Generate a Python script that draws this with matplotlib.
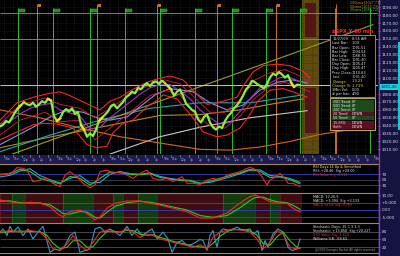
import numpy as np
import matplotlib
matplotlib.use("Agg")
import matplotlib.pyplot as plt
from matplotlib.patches import Rectangle

W, H = 400, 256

# ---------------- price panel data (hourly SPX) ----------------
price = [1039, 1041, 1046, 1044, 1050, 1057, 1062, 1066, 1070, 1067,
         1066, 1069, 1064, 1067, 1071, 1069, 1074, 1072, 1052, 1046,
         1049, 1057, 1061, 1058, 1062, 1055, 1057, 1041, 1035, 1026,
         1030, 1027, 1035, 1046, 1050, 1054, 1058, 1065, 1067, 1062,
         1066, 1070, 1076, 1079, 1083, 1081, 1088, 1086, 1091, 1094,
         1090, 1095, 1096, 1093, 1097, 1094, 1090, 1086, 1078, 1083,
         1086, 1078, 1068, 1064, 1060, 1058, 1048, 1044, 1051, 1054,
         1044, 1038, 1035, 1039, 1037, 1046, 1052, 1056, 1062, 1066,
         1071, 1078, 1086, 1090, 1097, 1095, 1092, 1090, 1087, 1093,
         1101, 1106, 1104, 1108, 1105, 1101, 1104, 1095, 1089, 1092, 1091.4]
highlight_bars = [6, 16, 19, 27, 33, 56, 97]

band_up_x = [0, 17, 33, 50, 60, 70, 80, 90, 100, 110, 120, 133, 147, 157, 170, 183, 193, 207,
             217, 237, 243, 253, 263, 277, 290, 303, 310]
band_up = [1047, 1069, 1076, 1081, 1083, 1078, 1072, 1066, 1060, 1071, 1076, 1086, 1095, 1099,
           1103, 1098, 1085, 1067, 1069, 1076, 1090, 1108, 1116, 1118, 1116, 1109, 1100]
band_lo_x = [0, 10, 33, 43, 57, 73, 87, 97, 107, 113, 123, 133, 147, 157, 163, 177, 193, 203,
             217, 227, 240, 250, 257, 270, 283, 297, 307]
band_lo = [1022, 1028, 1041, 1043, 1042, 1037, 1016, 1012, 1014, 1031, 1043, 1047, 1064, 1072,
           1079, 1074, 1050, 1032, 1026, 1028, 1037, 1054, 1070, 1085, 1087, 1081, 1076]
inner_x = [0, 20, 45, 60, 80, 95, 110, 130, 150, 165, 180, 195, 210, 225, 240, 255, 270, 285, 300, 310]
inner_up = [1042, 1066, 1075, 1067, 1062, 1050, 1062, 1079, 1092, 1098,
            1093, 1075, 1057, 1057, 1073, 1098, 1107, 1111, 1103, 1095]
inner_lo = [1028, 1047, 1057, 1045, 1047, 1022, 1037, 1057, 1078, 1085,
            1079, 1054, 1040, 1037, 1052, 1075, 1090, 1095, 1088, 1083]

purple_x = [0, 10, 20, 30, 40, 50, 60, 70, 80, 90, 100, 110, 120, 130, 140, 150, 160, 170, 180,
            190, 200, 210, 220, 230, 240, 250, 260, 270, 280, 290, 300]
purple = [1042, 1045, 1055, 1062, 1066, 1068, 1060, 1056, 1052, 1036, 1038, 1050, 1060, 1070,
          1080, 1088, 1092, 1092, 1084, 1074, 1060, 1050, 1042, 1044, 1058, 1074, 1088, 1094,
          1101, 1101, 1096]
lblue_x = [0, 33, 50, 67, 83, 97, 110, 127, 140, 155, 170, 193, 210, 227, 243, 260, 277, 293, 307]
lblue = [1016, 1038, 1051, 1060, 1057, 1050, 1047, 1051, 1064, 1079, 1087, 1083, 1069, 1060,
         1066, 1085, 1095, 1098, 1094]
teal_x = [0, 50, 100, 150, 200, 250, 303]
teal = [1007, 1028, 1047, 1062, 1069, 1069, 1079]
amber_x = [0, 40, 80, 120, 160, 200, 240, 270, 303]
amber = [1012, 1023, 1033, 1043, 1053, 1054, 1060, 1067, 1074]
orange_x = [0, 40, 80, 120, 160, 200, 230, 260, 290, 320, 345]
orange_ma = [1060, 1050, 1037, 1026, 1018, 1010, 1009, 1013, 1020, 1029, 1034]
gray_x = [110, 160, 200, 250, 307]
gray_ma = [1004, 1026, 1038, 1050, 1059]
trend_x = [10, 373]
trend = [1003, 1168]
pivot_levels = [1182.4, 1149.8]
last_price = 1091.4

day_lines = [18.3, 53.3, 90, 125, 160, 195, 231.7, 265.7, 300, 335, 370]
week_lines = [37.3, 97.3, 156.7, 216.7, 276, 336]
price_ticks = [1190, 1180, 1170, 1160, 1150, 1140, 1130, 1120, 1110, 1100,
               1080, 1070, 1060, 1050, 1040, 1030, 1020, 1010]
hour_labels = ['10a', '11a', '12p', '1p', '2p', '3p']

# ---------------- RSI ----------------
rsi_x = [0, 7, 13, 17, 22, 27, 33, 40, 47, 53, 60, 65, 70, 77, 83, 90, 95, 100, 107, 113,
         120, 127, 133, 140, 147, 153, 160, 167, 173, 182, 187, 193, 200, 207, 213, 220, 227,
         233, 240, 247, 250, 257, 263, 267, 270, 273, 280, 285, 288, 293, 300]
rsi = [67, 70, 79, 94, 92, 86, 43, 49, 55, 37, 25, 67, 79, 61, 37, 21, 31, 79, 85, 73,
       79, 67, 55, 73, 85, 55, 49, 55, 43, 61, 37, 37, 33, 49, 55, 49, 67, 73, 79, 91,
       95, 85, 55, 31, 49, 55, 73, 55, 37, 37, 25]
rsi_sig = [70, 72, 88, 80, 55, 45, 35, 62, 55, 30, 55, 78, 75, 70, 68, 72, 58, 52, 48, 45,
           35, 45, 55, 65, 75, 88, 80, 58, 60, 50, 35]
rsi_avg = [60, 66, 82, 90, 65, 50, 38, 55, 65, 38, 40, 70, 80, 72, 70, 75, 62, 55, 50, 48,
           38, 40, 50, 60, 72, 84, 86, 65, 62, 55, 40]

# ---------------- MACD ----------------
macd_x = [0, 10, 20, 30, 40, 50, 57, 63, 70, 80, 87, 95, 100, 107, 115, 127, 140, 150, 160,
          173, 187, 200, 213, 227, 240, 250, 255, 263, 270, 278, 287, 293, 300]
macd = [6.8, 5.7, 4.6, 5.3, 4.6, 2.3, -2.3, -4.6, -1.2, 0.0, -2.3, -6.8, -4.6, 1.2, 4.6, 6.2,
        6.2, 4.6, 3.4, 1.2, -1.2, -5.5, -5.5, -2.1, 4.8, 9.1, 10.3, 8.0, 5.7, 4.6, 4.6, 1.2, -1.2]
macd_sig = [6.0, 6.2, 5.0, 4.8, 4.8, 3.5, 0.5, -2.5, -2.8, -1.0, -1.5, -5.0, -5.5, -1.5, 2.5,
            5.0, 6.0, 5.3, 4.0, 2.0, 0.0, -3.8, -5.0, -3.8, 1.5, 6.5, 8.5, 8.8, 7.0, 5.5, 5.0,
            3.2, 0.5]
macd_bands = [(0, 12, 'r'), (12, 25, 'g'), (25, 63, 'r'), (63, 93, 'g'), (93, 113, 'r'),
              (113, 123, 'g'), (123, 138, 'r'), (138, 157, 'g'), (157, 223, 'r'),
              (223, 255, 'g'), (255, 270, 'r'), (270, 280, 'g'), (280, 302, 'r')]

# ---------------- Stochastic ----------------
sto_fast_x = [0, 3, 7, 10, 13, 18, 23, 28, 33, 38, 43, 50, 55, 60, 65, 70, 75, 80, 85, 90,
              95, 100, 105, 110, 115, 120, 127, 132, 137, 142, 147, 152, 157, 163, 168, 172,
              177, 182, 187, 193, 200, 203, 207, 210, 213, 217, 220, 223, 230, 237, 243, 250,
              253, 258, 262, 265, 268, 273, 278, 283, 288, 292, 297, 300]
sto_fast = [78, 90, 65, 100, 78, 97, 65, 90, 52, 78, 100, 1, 14, 8, 27, 65, 78, 1, 8, 14,
            90, 97, 78, 90, 78, 65, 100, 65, 90, 65, 78, 90, 52, 78, 52, 1, 39, 46, 27, 33,
            50, 46, 8, 65, 84, 20, 78, 90, 84, 97, 84, 90, 71, 84, 8, 46, 20, 71, 90, 78,
            20, 8, 14, 52]
sto_x = [0, 10, 20, 30, 40, 47, 53, 60, 67, 73, 80, 87, 93, 100, 107, 113, 120, 127, 133, 140,
         147, 153, 160, 167, 173, 180, 187, 193, 200, 207, 213, 220, 227, 233, 243, 250, 257,
         263, 270, 277, 283, 290, 297, 300]
sto_k = [78, 84, 78, 84, 78, 52, 14, 8, 33, 65, 27, 8, 39, 78, 84, 78, 78, 90, 78, 58,
         71, 65, 52, 46, 39, 33, 27, 20, 30, 14, 58, 78, 84, 90, 84, 78, 52, 14, 39, 84,
         71, 20, 14, 18]
sto_d = [75, 80, 82, 80, 80, 65, 35, 15, 20, 45, 45, 20, 22, 55, 80, 82, 78, 85, 84, 70,
         66, 68, 58, 50, 43, 37, 30, 24, 22, 18, 35, 62, 80, 87, 88, 82, 66, 35, 28, 60,
         78, 45, 20, 16]

info_rows = [("11/27/09", "8:55 AM"), ("Last Bar:", "1.00"), ("Bar Open:", "1091.51"),
             ("Bar High:", "1094.04"), ("Bar Low:", "1088.78"), ("Bar Close:", "1091.40"),
             ("Day Open:", "1105.47"), ("Day High:", "1105.47"), ("Prev Close:", "1110.63")]
quote_rows = [("Last:", "1091.40"), ("Change:", "-19.23"), ("Change %:", "-1.73%"),
              ("1Min Vol:", "0.00"), ("# per bar:", "4/90")]
trend_rows = [("20D Trend:", "UP", 'g'), ("50D Trend:", "UP", 'g'), ("200 Trend:", "UP", 'g'),
              ("20 Trend:", "DOWN", 'r'), ("50 Trend:", "UP", 'g'), ("15 EFD:", "DOWN", 'r'),
              ("Profit:", "DOWN", 'r')]
sma_text = ["200sma [1027.73]", "50sma [1063.73]", "20sma [1085.72]"]

# ---------------- figure ----------------
fig = plt.figure(figsize=(W / 100, H / 100), dpi=100, facecolor='black')


def px_axes(x0, y0, x1, y1, z=1):
    return fig.add_axes([x0 / W, 1 - y1 / H, (x1 - x0) / W, (y1 - y0) / H], zorder=z)


def style_panel(a, ylim, ticks, labels):
    a.set_facecolor('black')
    a.set_xlim(0, 378)
    a.set_ylim(*ylim)
    a.set_xticks([])
    a.yaxis.tick_right()
    a.set_yticks(ticks)
    a.set_yticklabels(labels)
    a.tick_params(axis='y', labelsize=3.0, colors='#d8d8e8', length=1.5, width=0.4, pad=1)
    for s in a.spines.values():
        s.set_visible(False)


bg = px_axes(0, 0, W, H, z=0)
bg.set_xlim(0, W)
bg.set_ylim(H, 0)
bg.axis('off')
bg.add_patch(Rectangle((378, 0), 22, H, fc='#141440', ec='none'))
bg.add_patch(Rectangle((397.5, 42), 2.5, 88, fc='#1ac8d0', ec='none'))
bg.add_patch(Rectangle((0, 154.5), 378, 9, fc='#1c1c52', ec='none'))
for i, tx in enumerate(np.arange(4, 376, 8.8)):
    bg.plot([tx, tx], [154.5, 156.5], color='#b0b0c8', lw=0.4)
    bg.text(tx + 0.8, 159.5, hour_labels[i % len(hour_labels)], fontsize=2.1,
            color='#b8b8cc', va='center', ha='left')

# ---- main price panel ----
ax = px_axes(0, 0, 378, 154, z=2)
style_panel(ax, (1004.1, 1199.25), price_ticks, ['%.2f' % t for t in price_ticks])
ax.hlines(np.arange(1010, 1200, 10), 0, 378, colors='#262a36', lw=0.5, linestyles=':')
ax.vlines(np.arange(4, 378, 8.8), 1004.1, 1199.25, colors='#262a36', lw=0.5, linestyles=':')

# future column
ax.add_patch(Rectangle((302, 1004.1), 17, 195, fc='#5e4c0c', ec='none', zorder=1))
ax.add_patch(Rectangle((305, 1152.4), 11, 43, fc='#561414', ec='none', zorder=1))
ax.add_patch(Rectangle((305, 1030.7), 11, 57, fc='#561414', ec='none', zorder=1))

ax.vlines(day_lines, 1004.1, 1189.0, colors='#24c024', lw=0.7, zorder=2)
ax.vlines(week_lines, 1004.1, 1194.0, colors='#c87020', lw=0.7, zorder=2)
ax.hlines(pivot_levels, 0, 378, colors='#8c88b8', lw=0.6, zorder=2)

ax.plot(gray_x, gray_ma, color='#c8c8c8', lw=0.8, zorder=3)
ax.plot(orange_x, orange_ma, color='#d8661a', lw=0.8, zorder=3)
ax.plot(amber_x, amber, color='#b88a28', lw=0.8, zorder=3)
ax.plot(teal_x, teal, color='#20a8b0', lw=0.8, zorder=3)
ax.plot(trend_x, trend, color='#9a9a2a', lw=0.8, zorder=3)
ax.plot(lblue_x, lblue, color='#8c8cf0', lw=0.8, zorder=3)
ax.hlines(last_price, 0, 378, colors='#d8d820', lw=0.7, zorder=3)
ax.plot(inner_x, inner_up, color='#e01c2c', lw=0.6, zorder=4)
ax.plot(inner_x, inner_lo, color='#e01c2c', lw=0.6, zorder=4)
ax.plot(band_up_x, band_up, color='#ff2020', lw=0.8, zorder=4)
ax.plot(band_lo_x, band_lo, color='#ff2020', lw=0.8, zorder=4)
ax.plot(purple_x, purple, color='#a030c8', lw=0.8, zorder=5)

bars = np.arange(len(price)) * 3
ax.plot(bars, price, color='#84f040', lw=1.6, zorder=6)
for b in highlight_bars:
    ax.plot(bars[b:b + 2], price[b:b + 2], color='#f0e020', lw=1.6, zorder=7)

# ---- RSI ----
rax = px_axes(0, 164.3, 378, 193.3, z=2)
style_panel(rax, (0.7, 106), [70, 50, 30], ['70', '50', '30'])
rax.hlines([70, 30], 0, 378, colors='#3440c8', lw=0.6)
rax.hlines(50, 0, 378, colors='#3c3c4c', lw=0.6)
rax.plot(purple_x, rsi_avg, color='#30a0e0', lw=0.8)
rax.plot(purple_x, rsi_sig, color='#20d020', lw=0.8)
rax.plot(rsi_x, rsi, color='#ff2020', lw=0.8)

# ---- MACD ----
max_ = px_axes(0, 193.3, 378, 223.3, z=2)
style_panel(max_, (-9.1, 11.4), [10, 5, 0, -5], ['10.00', '+5.000', '0.00', '-5.000'])
for x0, x1, c in macd_bands:
    max_.axvspan(x0, x1, color='#123c10' if c == 'g' else '#3c0e12', lw=0)
    max_.axvline(x0, color='#2e7a2e' if c == 'g' else '#7a2424', lw=0.4)
max_.hlines([5, -5], 0, 378, colors='#50505a', lw=0.6)
max_.hlines(0, 0, 378, colors='#3440c8', lw=0.6)
max_.plot(macd_x, macd_sig, color='#20d020', lw=0.8)
max_.plot(macd_x, macd, color='#ff2020', lw=0.8)

# ---- Stochastic ----
sax = px_axes(0, 223.3, 378, 253.3, z=2)
style_panel(sax, (-2.7, 111.4), [80, 50, 20], ['80', '50', '20'])
sax.hlines([80, 20], 0, 378, colors='#50505a', lw=0.6)
sax.hlines(50, 0, 378, colors='#3440c8', lw=0.6)
sax.plot(sto_fast_x, sto_fast, color='#3a98c8', lw=0.8)
sax.plot(sto_x, sto_d, color='#20d020', lw=0.8)
sax.plot(sto_x, sto_k, color='#ff2020', lw=0.8)

# ---- overlay: borders, boxes, texts ----
ov = px_axes(0, 0, W, H, z=10)
ov.set_xlim(0, W)
ov.set_ylim(H, 0)
ov.axis('off')
ov.patch.set_visible(False)
for yb in [164.3, 193.3, 223.3, 253.3]:
    ov.plot([0, 378], [yb, yb], color='#a88a48', lw=0.8)
ov.plot([378.5, 378.5], [0, H], color='#c020c8', lw=0.9)

for x in day_lines[:-2]:
    ov.add_patch(Rectangle((x + 0.8, 8.5), 6, 3, fc='#1e8a1e', ec='#40d040', lw=0.3))
for x in week_lines[:-1]:
    ov.add_patch(Rectangle((x + 0.8, 4.2), 3, 3, fc='#c87020', ec='none'))

for i, (t, c) in enumerate(zip(sma_text, ['#e08a20', '#e08a20', '#40d040'])):
    ov.text(350, 2.7 + 3.3 * i, t, fontsize=2.3, color=c, va='center')

ov.text(332, 31, '$SPX.X 60 min', color='#ff2828', fontsize=3.6, fontweight='bold', va='center')
ov.add_patch(Rectangle((330, 35), 45, 62, fc='black', ec='#9a9a9a', lw=0.6))
for i, (l, r) in enumerate(info_rows):
    y = 39.3 + 4.15 * i
    ov.text(332.5, y, l, fontsize=2.5, color='#e8e8e8', va='center')
    ov.text(352, y, r, fontsize=2.5, color='#e8e8e8', va='center')
for i, (l, r) in enumerate(quote_rows):
    y = 77.3 + 4.2 * i
    col = '#f0e020' if i < 3 else '#e8e8e8'
    ov.text(332.5, y, l, fontsize=2.5, color=col, va='center')
    ov.text(352, y, r, fontsize=2.5, color=col, va='center')

ov.add_patch(Rectangle((330, 98), 45, 32, fc='#0c0c0c', ec='#b8a468', lw=0.8))
for i, (l, r, c) in enumerate(trend_rows):
    y = 99.6 + 4.2 * i
    ov.add_patch(Rectangle((331.5, y), 42, 3.9, fc='#1c4a1c' if c == 'g' else '#5a1020', ec='none'))
    ov.text(333, y + 2, l, fontsize=2.4, color='#e8e8e8', va='center')
    ov.text(352, y + 2, r, fontsize=2.4, color='#e8e8e8', va='center')

ov.text(389, 86.9, '1091.40', fontsize=3.0, ha='center', va='center', color='#002848',
        bbox=dict(boxstyle='square,pad=0.2', fc='#18d0e0', ec='none'))

panel_text = [
    (166.7, "RSI Days:14 Up & Smoothed", '#e8e8e8'),
    (171.0, "RSI: +28.46  Sig +29.00", '#e8e8e8'),
    (175.3, "RSI Value Sig -4.611", '#ff2828'),
    (196.7, "MACD: 12,26,9", '#e8e8e8'),
    (200.9, "MACD: +3.094  Sig +3.133", '#e8e8e8'),
    (205.1, "MACD Value Sig -0.763", '#ff2828'),
    (226.7, "Stochastic Days: 15 C 3 3 3", '#e8e8e8'),
    (230.8, "Stochastic: +13.850  Sig +20.227", '#e8e8e8'),
    (234.9, "STO Value Sig -3.224", '#ff2828'),
    (239.3, "Williams %R: -69.63", '#e8e8e8'),
]
for y, t, c in panel_text:
    ov.text(313, y, t, fontsize=2.4, color=c, va='center')
ov.text(315, 249.5, "@2009 Georges Rochet All rights reserved", fontsize=2.1,
        color='#a0a0a0', va='center')

fig.savefig('out.png', dpi=100, facecolor='black')
